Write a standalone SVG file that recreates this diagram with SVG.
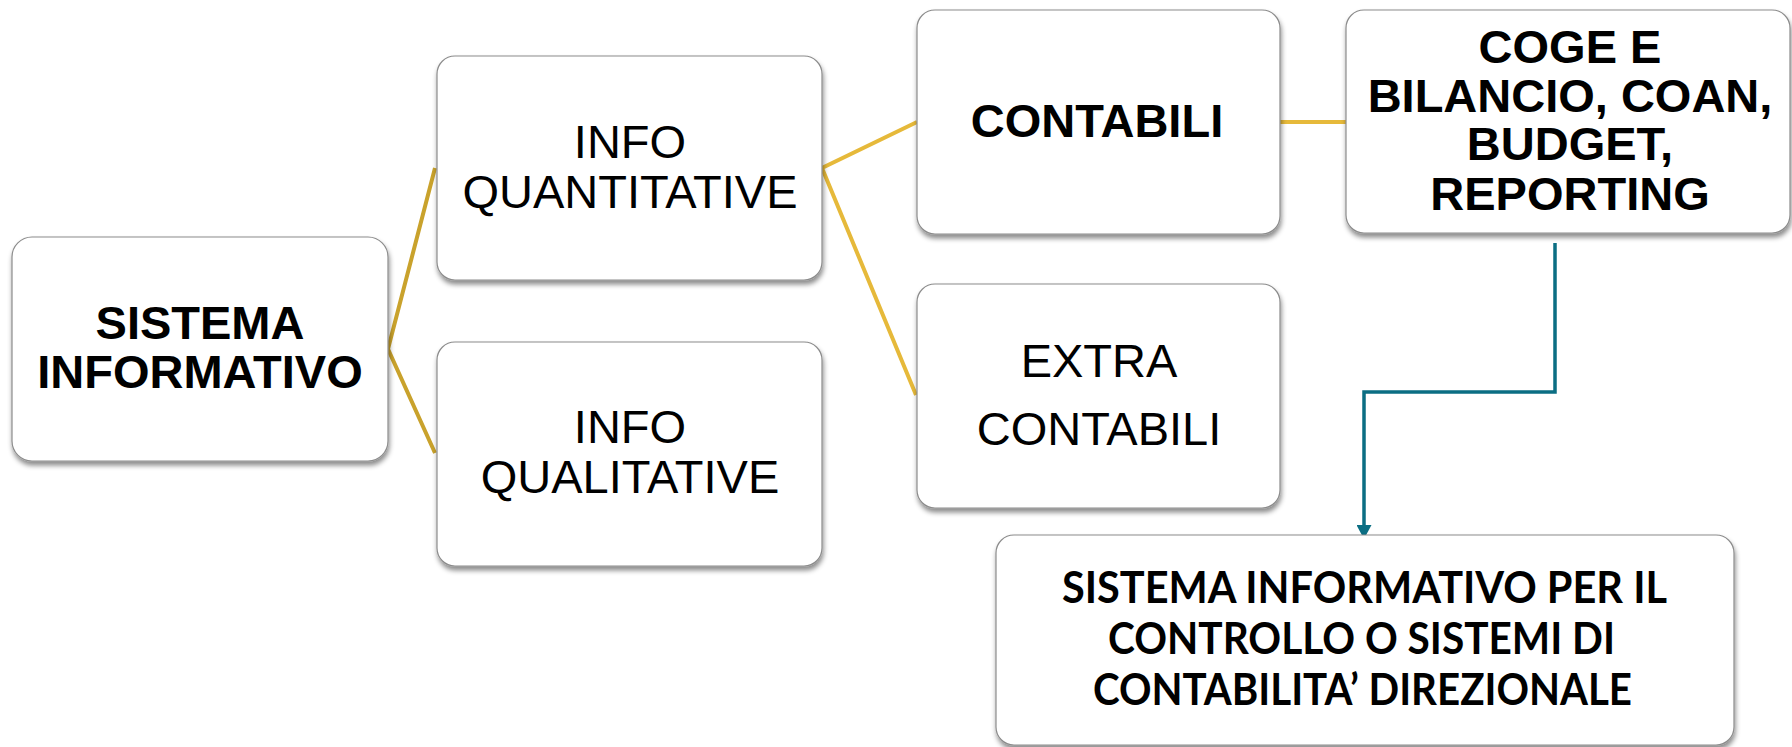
<svg xmlns="http://www.w3.org/2000/svg" width="1792" height="747" viewBox="0 0 1792 747">
  <style>
    .box { fill: #ffffff; stroke: #8c8c8c; stroke-width: 1.2; filter: url(#shadow); }
    .arial { font-family: "Liberation Sans", Arial, sans-serif; font-size: 47px; fill: #000; text-anchor: middle; }
    .bold { font-weight: bold; }
    .calibri { font-family: Lato, "Open Sans", sans-serif; font-weight: bold; font-size: 43px; fill: #000; text-anchor: middle; }
    .gold-dark { fill: none; stroke: #C9A22C; stroke-width: 4; }
    .gold { fill: none; stroke: #E6B93A; stroke-width: 4; }
    .teal { fill: none; stroke: #0B6E83; stroke-width: 3.5; }
  </style>
  <defs>
    <filter id="shadow" x="-5%" y="-5%" width="110%" height="115%">
      <feDropShadow dx="1" dy="4" stdDeviation="2.5" flood-color="#000" flood-opacity="0.45"/>
    </filter>
    <!-- triangular head pointing along the path direction -->
    <marker id="arrow" viewBox="0 0 14 15" refX="14" refY="7.5" markerWidth="14" markerHeight="15" markerUnits="userSpaceOnUse" orient="auto">
      <path d="M0,0 L14,7.5 L0,15 Z" fill="#0B6E83"/>
    </marker>
  </defs>

  <rect width="1792" height="747" fill="#ffffff"/>

  <!-- connectors -->
  <g id="connectors">
    <polyline class="gold-dark" points="435,168 388,349 435,453"/>
    <polyline class="gold" points="917,122 822,168 916,395"/>
    <line class="gold" x1="1280" y1="122" x2="1346" y2="122"/>
    <path class="teal" d="M1555,243 V392 H1364 V539" marker-end="url(#arrow)"/>
  </g>

  <!-- root node -->
  <g id="sistema-informativo">
    <rect class="box" x="12" y="237" width="376" height="224" rx="20"/>
    <text class="arial bold" x="200" y="339">SISTEMA</text>
    <text class="arial bold" x="200" y="388">INFORMATIVO</text>
  </g>

  <g id="info-quantitative">
    <rect class="box" x="437" y="56" width="385" height="224" rx="18"/>
    <text class="arial" x="630" y="158">INFO</text>
    <text class="arial" x="630" y="208">QUANTITATIVE</text>
  </g>

  <g id="info-qualitative">
    <rect class="box" x="437" y="342" width="385" height="224" rx="18"/>
    <text class="arial" x="630" y="443">INFO</text>
    <text class="arial" x="630" y="493">QUALITATIVE</text>
  </g>

  <g id="contabili">
    <rect class="box" x="917" y="10" width="363" height="224" rx="18"/>
    <text class="arial bold" x="1097" y="137">CONTABILI</text>
  </g>

  <g id="extra-contabili">
    <rect class="box" x="917" y="284" width="363" height="224" rx="18"/>
    <text class="arial" x="1099" y="377">EXTRA</text>
    <text class="arial" x="1099" y="445">CONTABILI</text>
  </g>

  <g id="coge-bilancio">
    <rect class="box" x="1346" y="10" width="444" height="223" rx="18"/>
    <text class="arial bold" x="1570" y="63">COGE E</text>
    <text class="arial bold" x="1570" y="112">BILANCIO, COAN,</text>
    <text class="arial bold" x="1570" y="160">BUDGET,</text>
    <text class="arial bold" x="1570" y="210">REPORTING</text>
  </g>

  <g id="sistema-controllo">
    <rect class="box" x="996" y="535" width="738" height="210" rx="18"/>
    <text class="calibri" x="1364.5" y="603" textLength="605" lengthAdjust="spacingAndGlyphs">SISTEMA INFORMATIVO PER IL</text>
    <text class="calibri" x="1361.5" y="654" textLength="507" lengthAdjust="spacingAndGlyphs">CONTROLLO O SISTEMI DI</text>
    <text class="calibri" x="1362.5" y="705" textLength="539" lengthAdjust="spacingAndGlyphs">CONTABILITA’ DIREZIONALE</text>
  </g>
</svg>
